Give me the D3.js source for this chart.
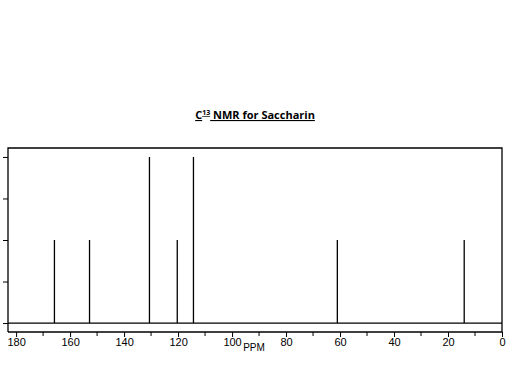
<!DOCTYPE html>
<html>
<head>
<meta charset="utf-8">
<script src="https://cdn.jsdelivr.net/npm/d3@7"></script>
<style>
  body { margin: 0; background: #fff; }
  svg { display: block; }
</style>
</head>
<body>
<svg id="chart" width="512" height="384"></svg>
<script>
// peaks (ppm, relative intensity)
const shifts = [165.8, 152.8, 130.6, 120.3, 114.3, 61.0, 14.0];
const intensities = [0.5, 0.5, 1.0, 0.5, 1.0, 0.5, 0.5];
const majorTicks = [180, 160, 140, 120, 100, 80, 60, 40, 20, 0];
const minorTicks = [170, 150, 130, 110, 90, 70, 50, 30, 10];
const yTicks = [0, 0.25, 0.5, 0.75, 1];

const svg = d3.select("#chart");
const plotLeft = 8, plotRight = 502, plotTop = 148, plotBottom = 332;

// ppm runs right-to-left like a real spectrum
const x = d3.scaleLinear().domain([183, 0]).range([plotLeft, plotRight]);
const y = d3.scaleLinear().domain([-0.054, 1.054]).range([plotBottom, plotTop]);

// title
const title = svg.append("text")
  .attr("x", 255)
  .attr("y", 119)
  .attr("text-anchor", "middle")
  .style("font-family", "'Open Sans', sans-serif")
  .style("font-size", "11px")
  .style("font-weight", "bold")
  .style("text-decoration", "underline")
  .attr("fill", "#000");
title.append("tspan").text("C");
title.append("tspan").attr("dy", -4).style("font-size", "7px").text("13");
title.append("tspan").attr("dy", 4).text(" NMR for Saccharin");

// frame (top, left, right)
svg.append("path")
  .attr("d", `M${plotLeft},${plotBottom}V${plotTop}H${plotRight}V${plotBottom}`)
  .attr("fill", "none")
  .attr("stroke", "#000")
  .attr("stroke-width", 1.3);

// zero baseline
svg.append("line")
  .attr("x1", plotLeft).attr("x2", plotRight)
  .attr("y1", y(0)).attr("y2", y(0))
  .attr("stroke", "#000")
  .attr("stroke-width", 1.3);

// peaks
svg.append("g")
  .selectAll("line")
  .data(shifts)
  .enter()
  .append("line")
  .attr("x1", d => x(d)).attr("x2", d => x(d))
  .attr("y1", y(0))
  .attr("y2", (d, i) => y(intensities[i]))
  .attr("stroke", "#000")
  .attr("stroke-width", 1.3);

// bottom axis
const xAxis = svg.append("g").attr("transform", `translate(0,${plotBottom})`);
xAxis.call(d3.axisBottom(x).tickValues(majorTicks).tickSize(5).tickPadding(1).tickFormat(d3.format("d")));
xAxis.append("g")
  .selectAll("line")
  .data(minorTicks)
  .enter()
  .append("line")
  .attr("x1", d => x(d)).attr("x2", d => x(d))
  .attr("y1", 0).attr("y2", 4)
  .attr("stroke", "#000");
xAxis.select(".domain").attr("d", `M${plotLeft},0H${plotRight}`).attr("stroke-width", 1.3);
xAxis.selectAll("text")
  .style("font-family", "'Liberation Sans', Arial, sans-serif")
  .style("font-size", "11px")
  .attr("fill", "#000");

svg.append("text")
  .attr("x", 254)
  .attr("y", 351)
  .attr("text-anchor", "middle")
  .style("font-family", "'Liberation Sans', Arial, sans-serif")
  .style("font-size", "10px")
  .attr("fill", "#000")
  .text("PPM");

// left axis ticks, no labels
const yAxis = svg.append("g").attr("transform", `translate(${plotLeft},0)`);
yAxis.call(d3.axisLeft(y).tickValues(yTicks).tickSize(5).tickFormat(""));
yAxis.select(".domain").remove();
</script>
</body>
</html>
